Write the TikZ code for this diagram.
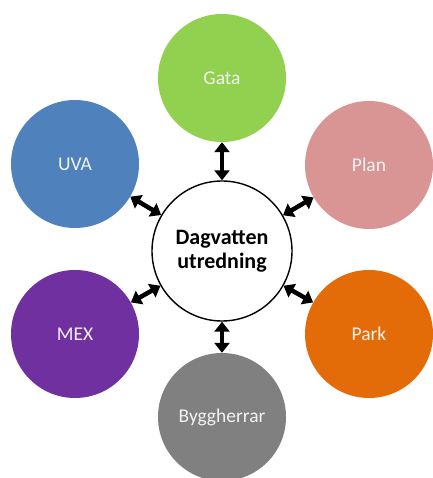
\documentclass[tikz,border=0pt]{standalone}
\usepackage{fontspec}
\setmainfont{Carlito}
\usetikzlibrary{arrows.meta,positioning}

\definecolor{gatagreen}{HTML}{92D050}
\definecolor{planpink}{HTML}{D99594}
\definecolor{parkorange}{HTML}{E36C09}
\definecolor{bygggrey}{HTML}{808080}
\definecolor{mexpurple}{HTML}{7030A0}
\definecolor{uvablue}{HTML}{4F81BD}
\definecolor{labelwhite}{HTML}{F2F2F2}

\begin{document}
\begin{tikzpicture}[x=1pt,y=1pt,
    unit/.style={circle,minimum size=128pt,inner sep=0pt,text=labelwhite,font=\fontsize{19.5}{23}\selectfont},
    hub/.style={circle,draw=black,line width=1.4pt,fill=white,minimum size=140pt,inner sep=0pt,align=center,font=\fontsize{22}{24}\selectfont\bfseries},
    link/.style={line width=4.5pt,{Triangle[width=15pt,length=10pt]}-{Triangle[width=15pt,length=10pt]}}]
      \useasboundingbox (0,0) rectangle (432,478);
      \node[hub] (hub) at (222,227) {Dagvatten\\utredning};
      \node[unit,fill=gatagreen] (gata) at (222,400) {Gata};
      \node[unit,fill=planpink] (plan) at (369,313) {Plan};
      \node[unit,fill=parkorange] (park) at (369,144) {Park};
      \node[unit,fill=bygggrey] (bygg) at (222,61) {Byggherrar};
      \node[unit,fill=mexpurple] (mex) at (75,144) {MEX};
      \node[unit,fill=uvablue] (uva) at (75,314) {UVA};
        \draw[link] (hub) -- (gata);
        \draw[link] (hub) -- (plan);
        \draw[link] (hub) -- (park);
        \draw[link] (hub) -- (bygg);
        \draw[link] (hub) -- (mex);
        \draw[link] (hub) -- (uva);
    \end{tikzpicture}
\end{document}
